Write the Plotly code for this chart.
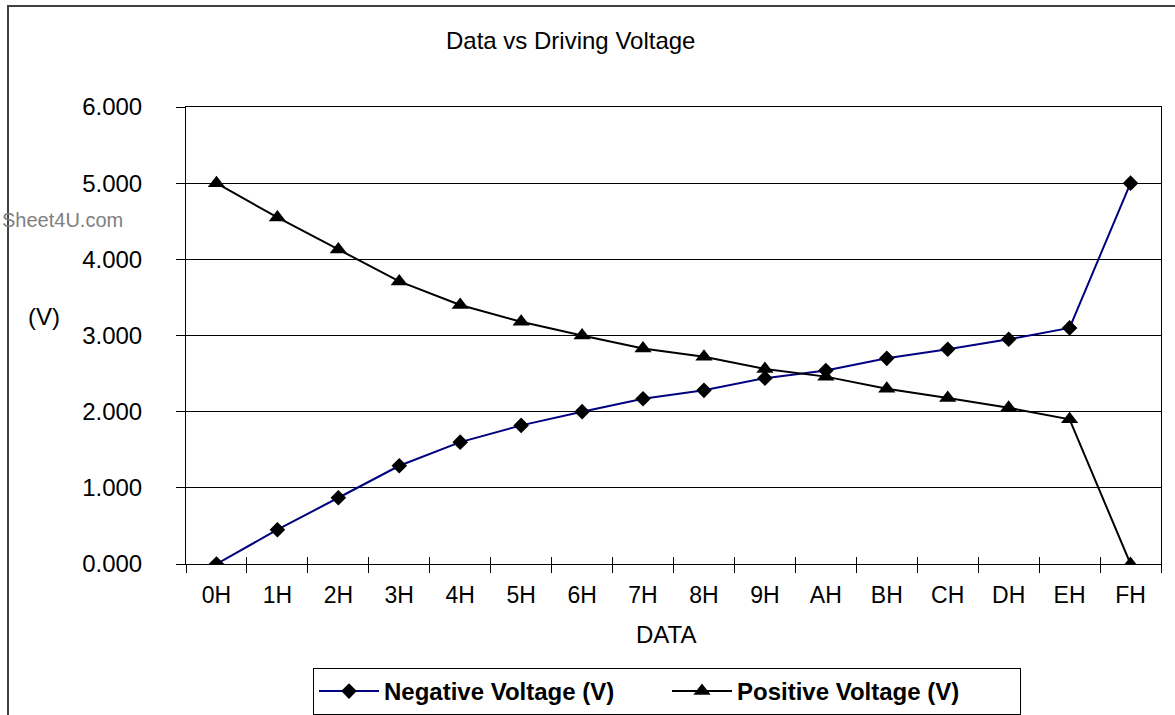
import plotly.graph_objects as go

categories = ["0H", "1H", "2H", "3H", "4H", "5H", "6H", "7H",
              "8H", "9H", "AH", "BH", "CH", "DH", "EH", "FH"]
negative_v = [0.000, 0.45, 0.87, 1.29, 1.60, 1.82, 2.00, 2.17,
              2.28, 2.44, 2.54, 2.70, 2.82, 2.95, 3.10, 5.00]
positive_v = [5.000, 4.55, 4.13, 3.71, 3.40, 3.18, 3.00, 2.83,
              2.72, 2.56, 2.46, 2.30, 2.18, 2.05, 1.90, 0.00]
y_ticks = [0, 1, 2, 3, 4, 5, 6]

W, H = 1175, 715
L, R, T, B = 186, 14, 107, 151
PW, PH = W - L - R, H - T - B


def px(x):
    return (x - L) / PW


def py(y):
    return (H - B - y) / PH


FONT = "Liberation Sans, Arial, sans-serif"

fig = go.Figure()
fig.add_trace(go.Scatter(
    x=categories, y=negative_v, name="Negative Voltage (V)",
    mode="lines+markers",
    line=dict(color="#000080", width=2),
    marker=dict(symbol="diamond", size=12, color="black"),
))
fig.add_trace(go.Scatter(
    x=categories, y=positive_v, name="Positive Voltage (V)",
    mode="lines+markers",
    line=dict(color="black", width=2),
    marker=dict(symbol="triangle-up", size=15, color="black"),
))
# helper trace so the overlay axis (inner halves of crossing ticks) has categories
fig.add_trace(go.Scatter(
    x=categories, y=negative_v, xaxis="x2", mode="lines",
    opacity=0, showlegend=False, hoverinfo="skip",
))

fig.update_layout(
    width=W, height=H, autosize=False,
    margin=dict(l=L, r=R, t=T, b=B, autoexpand=False),
    paper_bgcolor="white", plot_bgcolor="white",
    font=dict(family=FONT, size=24, color="black"),
    showlegend=True,
    xaxis=dict(
        type="category", categoryorder="array", categoryarray=categories,
        range=[-0.5, 15.5], tickson="boundaries",
        ticks="outside", ticklen=8, tickwidth=1, tickcolor="black",
        showline=True, linecolor="black", linewidth=1, mirror=True,
        showgrid=False, zeroline=False,
        tickfont=dict(size=23), ticklabelstandoff=10,
    ),
    xaxis2=dict(
        type="category", categoryorder="array", categoryarray=categories,
        range=[-0.5, 15.5], tickson="boundaries", overlaying="x",
        anchor="y", side="bottom",
        ticks="inside", ticklen=7, tickwidth=1, tickcolor="black",
        showticklabels=False, showline=False, showgrid=False, zeroline=False,
    ),
    yaxis=dict(
        range=[0, 6], tickvals=y_ticks, tickformat=".3f",
        ticks="outside", ticklen=9, tickwidth=1, tickcolor="black",
        showline=True, linecolor="black", linewidth=1, mirror=True,
        showgrid=True, gridcolor="black", gridwidth=1, zeroline=False,
        tickfont=dict(size=24), ticklabelstandoff=29,
    ),
    legend=dict(
        orientation="h", x=px(313), xanchor="left",
        y=py(668), yanchor="top",
        itemwidth=60, entrywidth=278, entrywidthmode="pixels",
        bordercolor="black", borderwidth=1, bgcolor="white",
        font=dict(family=FONT, size=24, weight="bold"),
    ),
    shapes=[dict(
        type="rect", xref="paper", yref="paper",
        x0=px(8), x1=px(1182), y0=py(722), y1=py(6),
        line=dict(color="#404040", width=2), fillcolor="rgba(0,0,0,0)",
        layer="below",
    )],
    annotations=[
        dict(text="Data vs Driving Voltage", xref="paper", yref="paper",
             x=px(570.5), y=py(40), xanchor="center", yanchor="middle",
             showarrow=False, font=dict(size=24)),
        dict(text="DATA", xref="paper", yref="paper",
             x=px(666), y=py(634), xanchor="center", yanchor="middle",
             showarrow=False, font=dict(size=24)),
        dict(text="(V)", xref="paper", yref="paper",
             x=px(44), y=py(316), xanchor="center", yanchor="middle",
             showarrow=False, font=dict(size=24)),
        dict(text="Sheet4U.com", xref="paper", yref="paper",
             x=px(0), y=py(220), xanchor="left", yanchor="middle",
             showarrow=False, font=dict(size=20, color="#808080")),
    ],
)

fig.write_html(
    "out.html",
    config=dict(displayModeBar=False, responsive=False),
    post_script="document.body.style.margin='0';",
)
